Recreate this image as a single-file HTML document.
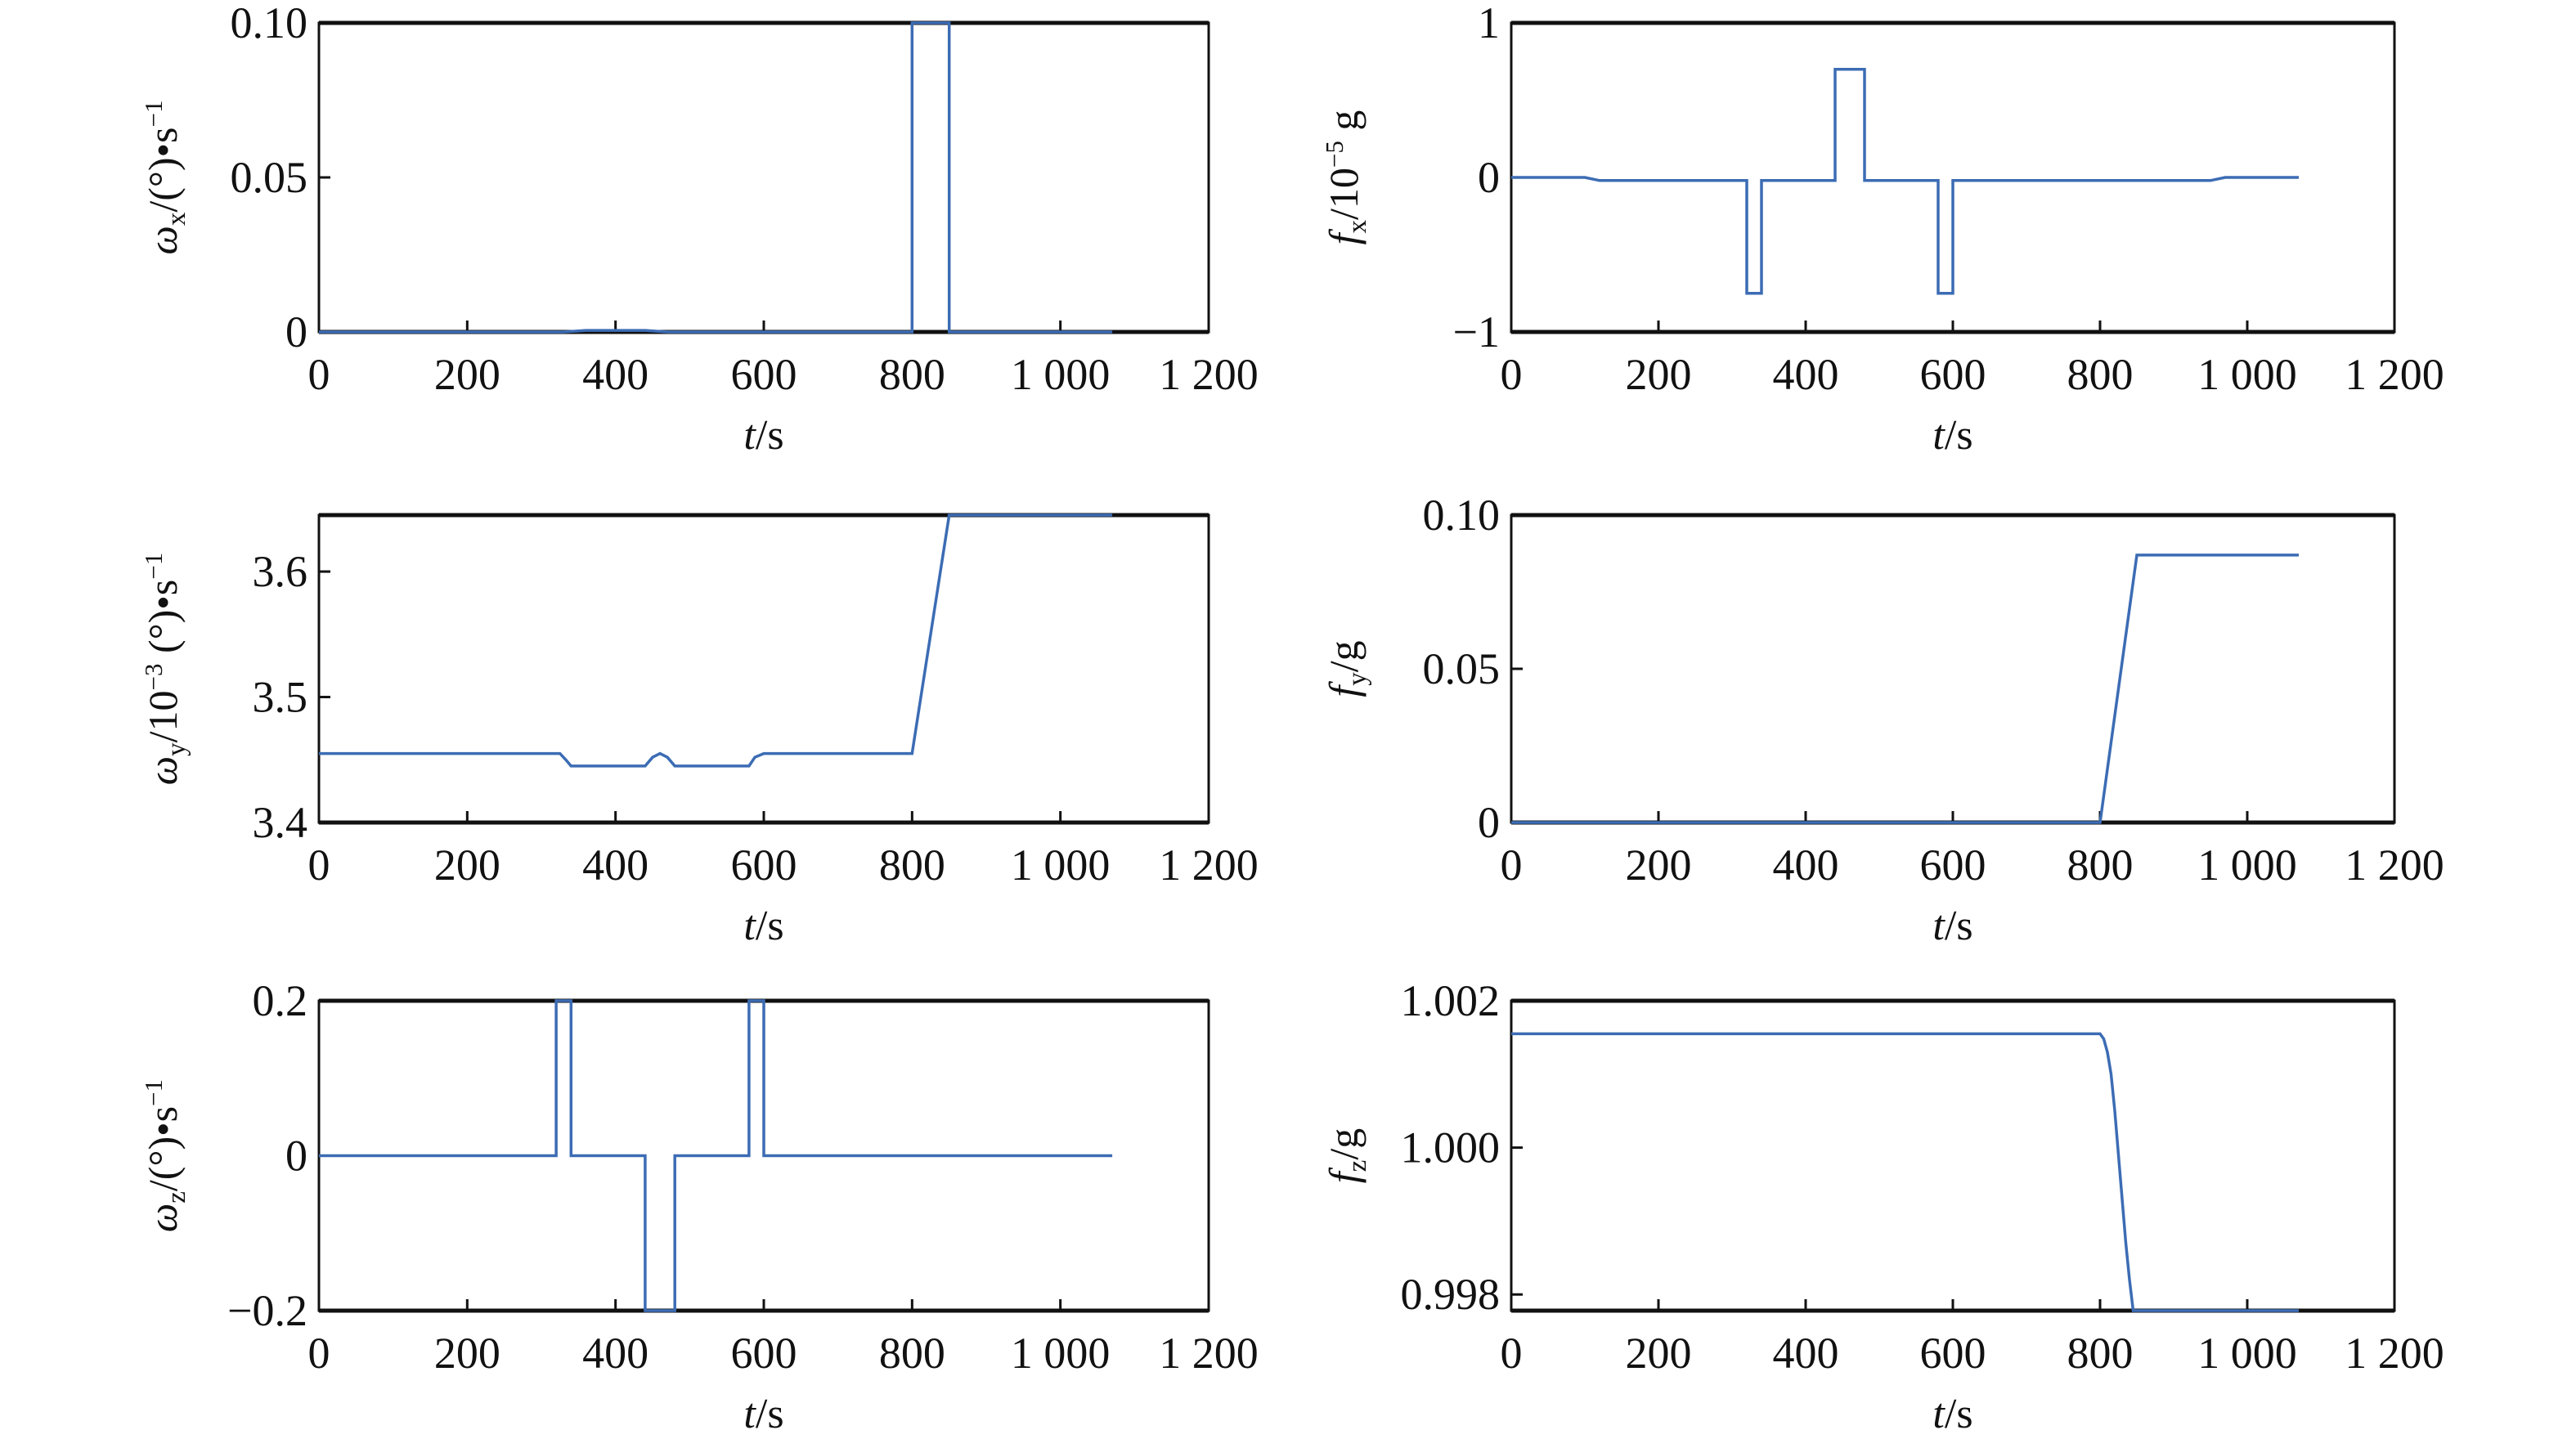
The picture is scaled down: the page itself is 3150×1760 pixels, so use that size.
<!DOCTYPE html>
<html><head><meta charset="utf-8">
<style>
html,body{margin:0;padding:0;background:#fff;}
svg{display:block;font-family:"Liberation Serif",serif;}
</style></head>
<body>
<svg id="fig" width="3150" height="1760" viewBox="0 0 3150 1760" xmlns="http://www.w3.org/2000/svg"></svg>
<script>
// ---- data ----
const xTicks = [0,200,400,600,800,1000,1200];
const xTickLabels = ["0","200","400","600","800","1 000","1 200"];

const wxT = [0,330,360,400,440,470,500,800,800,850,850,1070];
const wxV = [0,0,0.0005,0.0005,0.0005,0,-0.0003,0,0.1,0.1,0,0];
const wxTicks = [0,0.05,0.10];
const wxTickLabels = ["0","0.05","0.10"];

const fxT = [0,100,120,320,320,340,340,440,440,480,480,580,580,600,600,950,970,1070];
const fxV = [0,0,-0.02,-0.02,-0.75,-0.75,-0.02,-0.02,0.7,0.7,-0.02,-0.02,-0.75,-0.75,-0.02,-0.02,0,0];
const fxTicks = [-1,0,1];
const fxTickLabels = ["\u22121","0","1"];

const wyT = [0,325,333,340,440,450,460,470,480,580,588,600,800,850,1070];
const wyV = [3.455,3.455,3.450,3.445,3.445,3.452,3.455,3.452,3.445,3.445,3.452,3.455,3.455,3.645,3.645];
const wyTicks = [3.4,3.5,3.6];
const wyTickLabels = ["3.4","3.5","3.6"];

const fyT = [0,800,850,1070];
const fyV = [0,0,0.087,0.087];
const fyTicks = [0,0.05,0.10];
const fyTickLabels = ["0","0.05","0.10"];

const wzT = [0,320,320,340,340,440,440,480,480,580,580,600,600,1070];
const wzV = [0,0,0.2,0.2,0,0,-0.2,-0.2,0,0,0.2,0.2,0,0];
const wzTicks = [-0.2,0,0.2];
const wzTickLabels = ["\u22120.2","0","0.2"];

const fzT = [0,800,805,810,815,820,825,830,835,840,845,850,1070];
const fzV = [1.00155,1.00155,1.00148,1.0013,1.0010,1.0005,0.9999,0.9993,0.9987,0.9982,0.99778,0.99778,0.99778];
const fzTicks = [0.998,1.000,1.002];
const fzTickLabels = ["0.998","1.000","1.002"];

const NS="http://www.w3.org/2000/svg";
const svg=document.getElementById('fig');
function mk(tag,attrs,parent){const e=document.createElementNS(NS,tag);for(const k in attrs)e.setAttribute(k,attrs[k]);(parent||svg).appendChild(e);return e;}

function panel(id,L,R,T,B,ymin,ymax,T_,V_,yt,ytl,labelHTML,labelX){
  const g=mk('g',{});
  
  
  const sx=t=>L+(t-0)/(1200-0)*(R-L);
  const sy=v=>B-(v-ymin)/(ymax-ymin)*(B-T);
  const f=mk('rect',{x:L,y:T,width:R-L,height:B-T,fill:'none',stroke:'#111','stroke-width':3},g);
  
  
  mk('line',{x1:L,x2:R,y1:T,y2:T,stroke:'#111','stroke-width':5},g);
  mk('line',{x1:L,x2:R,y1:B,y2:B,stroke:'#111','stroke-width':5},g);
  xTicks.forEach((t,i)=>{
    const x=sx(t);
    if(i>0&&i<xTicks.length-1) mk('line',{x1:x,x2:x,y1:B,y2:B-14,stroke:'#111','stroke-width':3},g);
    const tx=mk('text',{x:x,y:B+70,'text-anchor':'middle','font-size':54,fill:'#111'},g);
    tx.textContent=xTickLabels[i];
    
    
  });
  yt.forEach((v,i)=>{
    const y=sy(v);
    if(y>T+3&&y<B-3) mk('line',{x1:L,x2:L+14,y1:y,y2:y,stroke:'#111','stroke-width':3},g);
    const tx=mk('text',{x:L-14,y:y+18,'text-anchor':'end','font-size':54,fill:'#111'},g);
    tx.textContent=ytl[i];
    
    
  });
  let d='';
  for(let i=0;i<T_.length;i++){let v=Math.max(ymin,Math.min(ymax,V_[i]));d+=(i?'L':'M')+sx(T_[i]).toFixed(1)+','+sy(v).toFixed(1);}
  const p=mk('path',{d:d,fill:'none',stroke:'#3c6cb4','stroke-width':3.5,'stroke-linejoin':'miter'},g);
  
  
  const xt=mk('text',{x:(L+R)/2,y:B+143,'text-anchor':'middle','font-size':52,fill:'#111'},g);
  xt.innerHTML='<tspan font-style="italic">t</tspan>/s';
  
  
  const yc=(T+B)/2;
  const ytt=mk('text',{x:labelX,y:yc,'text-anchor':'middle','font-size':50,fill:'#111',transform:'rotate(-90 '+labelX+' '+yc+')'},g);
  ytt.innerHTML=labelHTML;
  
  
}
const LL=390,LR=1478,RL=1848,RR=2928;
const rows=[[28,406],[630,1006],[1224,1603]];
const sub=(s)=>'<tspan font-size="33" dy="10">'+s+'</tspan><tspan dy="-10">';
const sup=(s)=>'<tspan font-size="31" dy="-18">'+s+'</tspan><tspan dy="18">';
panel('omega-x',LL,LR,rows[0][0],rows[0][1],0,0.1,wxT,wxV,wxTicks,wxTickLabels,
 '<tspan font-style="italic">ω</tspan>'+sub('x')+'/(°)•s</tspan>'+sup('−1')+'</tspan>',216);
panel('f-x',RL,RR,rows[0][0],rows[0][1],-1,1,fxT,fxV,fxTicks,fxTickLabels,
 '<tspan font-style="italic">f</tspan>'+sub('x')+'/10</tspan>'+sup('−5')+' g</tspan>',1660);
panel('omega-y',LL,LR,rows[1][0],rows[1][1],3.4,3.645,wyT,wyV,wyTicks,wyTickLabels,
 '<tspan font-style="italic">ω</tspan>'+sub('y')+'/10</tspan>'+sup('−3')+' (°)•s</tspan>'+sup('−1')+'</tspan>',216);
panel('f-y',RL,RR,rows[1][0],rows[1][1],0,0.1,fyT,fyV,fyTicks,fyTickLabels,
 '<tspan font-style="italic">f</tspan>'+sub('y')+'/g</tspan>',1660);
panel('omega-z',LL,LR,rows[2][0],rows[2][1],-0.2,0.2,wzT,wzV,wzTicks,wzTickLabels,
 '<tspan font-style="italic">ω</tspan>'+sub('z')+'/(°)•s</tspan>'+sup('−1')+'</tspan>',216);
panel('f-z',RL,RR,rows[2][0],rows[2][1],0.99778,1.002,fzT,fzV,fzTicks,fzTickLabels,
 '<tspan font-style="italic">f</tspan>'+sub('z')+'/g</tspan>',1660);
</script>
</body></html>
